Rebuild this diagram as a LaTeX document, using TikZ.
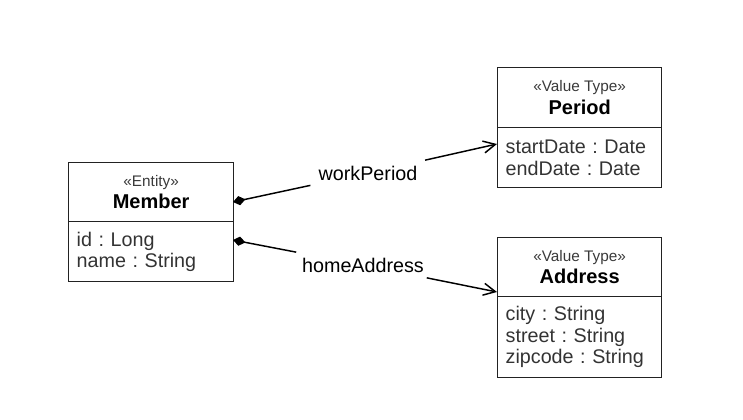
\documentclass[tikz,border=0pt]{standalone}
\usepackage{fontspec}
\setmainfont{Liberation Sans}
\usetikzlibrary{arrows.meta}
\definecolor{boxline}{HTML}{222222}
\definecolor{attrtext}{HTML}{333333}
\definecolor{stereo}{HTML}{3A3A3A}
\frenchspacing
\tikzset{
  hdr/.style={draw=boxline, line width=1pt, anchor=north west, minimum width=#1*0.75pt, minimum height=59*0.75pt, inner sep=0pt, align=center},
  attrbox/.style={draw=boxline, line width=1pt, anchor=north west, minimum width=#1*0.75pt, inner sep=0pt, align=left, text width=#1*0.75pt-12pt, text=attrtext, font=\fontsize{14.8}{16}\selectfont\frenchspacing},
  lbl/.style={font=\fontsize{14.8}{17}\selectfont, inner xsep=6pt, inner ysep=4pt},
  conn/.style={line width=1.1pt, draw=black},
}
\newcommand{\stereotype}[1]{{\fontsize{11.5}{13}\selectfont\color{stereo}«#1»}}
\newcommand{\cname}[1]{{\fontsize{15}{17}\selectfont\bfseries #1}}
\begin{document}
\begin{tikzpicture}[x=0.75pt,y=-0.75pt]
\useasboundingbox (0,0) rectangle (743,420);
% Member
\node[hdr=165] (mh) at (68,162) {\stereotype{Entity}\\[2.5pt]\cname{Member}};
\node[attrbox=165, minimum height=60*0.75pt] (ma) at (68,221) {id : Long\\name : String};
% Period
\node[hdr=164, minimum height=60*0.75pt] (ph) at (497,67) {\stereotype{Value Type}\\[2.5pt]\cname{Period}};
\node[attrbox=164, minimum height=60*0.75pt] (pa) at (497,127) {startDate : Date\\endDate : Date};
% Address
\node[hdr=164] (ah) at (497,237) {\stereotype{Value Type}\\[2.5pt]\cname{Address}};
\node[attrbox=164, minimum height=81*0.75pt] (aa) at (497,296) {city : String\\street : String\\zipcode : String};
% labels
\node[lbl] (wp) at (368,173) {workPeriod};
\node[lbl] (ha) at (363,265) {homeAddress};
% attachment points
\coordinate (d1) at (233,202);
\coordinate (d2) at (233,240);
\coordinate (p1) at (497,144);
\coordinate (a1) at (497,292);
\draw[conn, {Diamond[length=9.5pt,width=7pt,fill=black]}-] (d1) -- (wp);
\draw[conn, -{Straight Barb[length=9pt,width=9pt]}] (wp) -- (p1);
\draw[conn, {Diamond[length=9.5pt,width=7pt,fill=black]}-] (d2) -- (ha);
\draw[conn, -{Straight Barb[length=9pt,width=9pt]}] (ha) -- (a1);
\end{tikzpicture}
\end{document}
